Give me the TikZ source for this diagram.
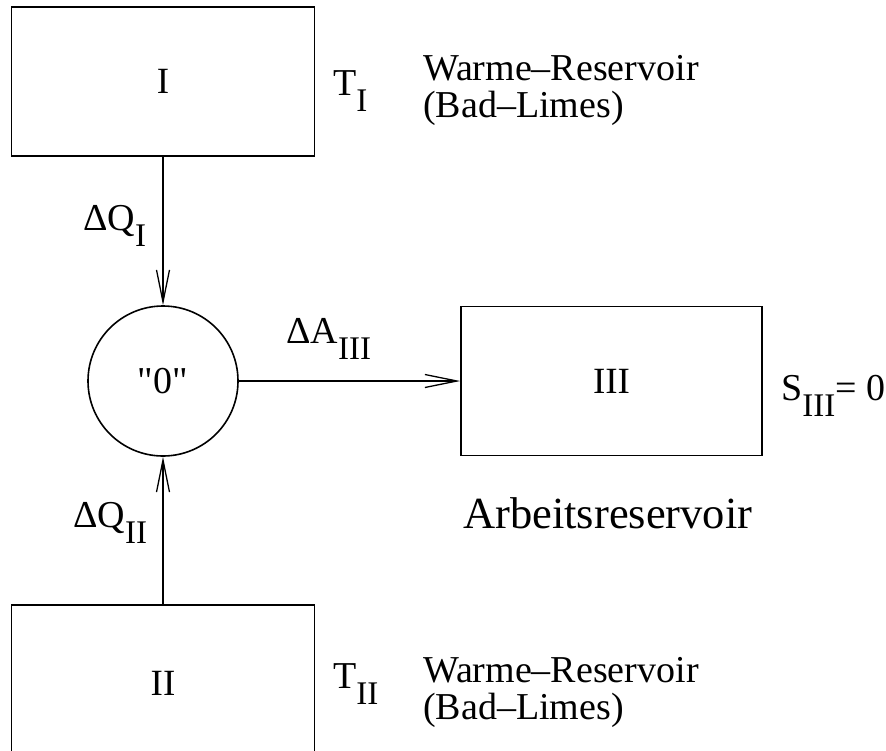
\documentclass[tikz,border=0pt]{standalone}
\usepackage{fontspec}
\setmainfont{Liberation Serif}[Ligatures=TeXOff]
\usetikzlibrary{arrows.meta,positioning}

\newcommand{\lowsub}[1]{\raisebox{-16pt}{\fontsize{33}{33}\selectfont #1}}

\begin{document}
\begin{tikzpicture}[x=1pt, y=-1pt,
    box/.style={rectangle, draw, line width=1.6pt, minimum width=303pt, minimum height=149pt, inner sep=0pt, font=\fontsize{37}{37}\selectfont},
    flow/.style={-{Straight Barb[length=32pt, width=13pt]}, line width=1.3pt},
    lbl/.style={anchor=base west, inner sep=0pt, font=\fontsize{38}{38}\selectfont}]
    \clip (0,0) rectangle (886,750);

    % reservoirs and the engine
    \node[box] (resI) at (163,81.5) {I};
    \node[circle, draw, line width=1.6pt, minimum size=150pt, inner sep=0pt, font=\fontsize{38}{38}\selectfont] (zero) at (163,381) {"0"};
    \node[box, minimum width=301pt] (resIII) at (611.5,381) {III};
    \node[box, minimum height=156pt] (resII) at (163,683) {II};

    \draw[flow] (resI) -- (zero);
    \draw[flow] (zero) -- (resIII);
    \draw[flow] (resII) -- (zero);

    % labels
    \node[lbl] (tI) at (333,95) {T\lowsub{I}};
    \node[lbl] (warmI) at (423,80) {Warme–Reservoir};
    \node[lbl] (badI) at ([yshift=-37pt]warmI.base west) {(Bad–Limes)};
    \node[lbl] (dqI) at (83,230) {ΔQ\lowsub{I}};
    \node[lbl] (daIII) at (286,343) {ΔA\lowsub{III}};
    \node[lbl] (sIII) at (781,400) {S\lowsub{III}= 0};
    \node[lbl, font=\fontsize{44.5}{44.5}\selectfont] (arbeit) at (463,528) {Arbeitsreservoir};
    \node[lbl] (dqII) at (73,527) {ΔQ\lowsub{II}};
    \node[lbl] (tII) at (333,688) {T\lowsub{II}};
    \node[lbl] (warmII) at (423,682) {Warme–Reservoir};
    \node[lbl] (badII) at ([yshift=-37pt]warmII.base west) {(Bad–Limes)};
\end{tikzpicture}
\end{document}
